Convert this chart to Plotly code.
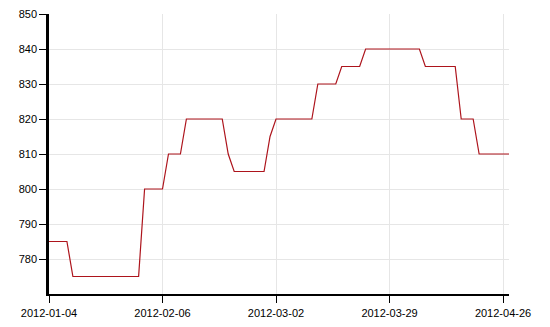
import plotly.graph_objects as go

# point index (one per observation) and values
idx = list(range(78))
values = [785, 785, 785, 785,
          775, 775, 775, 775, 775, 775, 775, 775, 775, 775, 775, 775,
          800, 800, 800, 800,
          810, 810, 810,
          820, 820, 820, 820, 820, 820, 820,
          810,
          805, 805, 805, 805, 805, 805,
          815,
          820, 820, 820, 820, 820, 820, 820,
          830, 830, 830, 830,
          835, 835, 835, 835,
          840, 840, 840, 840, 840, 840, 840, 840, 840, 840,
          835, 835, 835, 835, 835, 835,
          820, 820, 820,
          810, 810, 810, 810, 810, 810]
tick_pos = [0, 19, 38, 57, 76]
tick_labels = ["2012-01-04", "2012-02-06", "2012-03-02", "2012-03-29", "2012-04-26"]
y_ticks = [780, 790, 800, 810, 820, 830, 840, 850]

fig = go.Figure(go.Scatter(x=idx, y=values, mode="lines",
                           line=dict(color="#ad141c", width=1.2),
                           hoverinfo="x+y"))

fig.update_layout(
    width=550, height=327,
    margin=dict(l=49, r=41, t=14, b=33, autoexpand=False),
    paper_bgcolor="white", plot_bgcolor="white",
    showlegend=False,
    font=dict(family="Liberation Sans, Arial, sans-serif", size=11, color="black"),
)
fig.update_xaxes(range=[0, 77], tickvals=tick_pos, ticktext=tick_labels,
                 automargin=False,
                 showline=True, linecolor="black", linewidth=2,
                 ticks="outside", ticklen=7, tickwidth=1, tickcolor="black",
                 ticklabelstandoff=1,
                 showgrid=True, gridcolor="#e6e6e6", gridwidth=1,
                 zeroline=False)
fig.update_yaxes(range=[770, 850], tickvals=y_ticks,
                 automargin=False,
                 showline=True, linecolor="black", linewidth=2.5,
                 ticks="outside", ticklen=7, tickwidth=1, tickcolor="black",
                 showgrid=True, gridcolor="#e6e6e6", gridwidth=1,
                 zeroline=False)

fig.write_html("out.html")
